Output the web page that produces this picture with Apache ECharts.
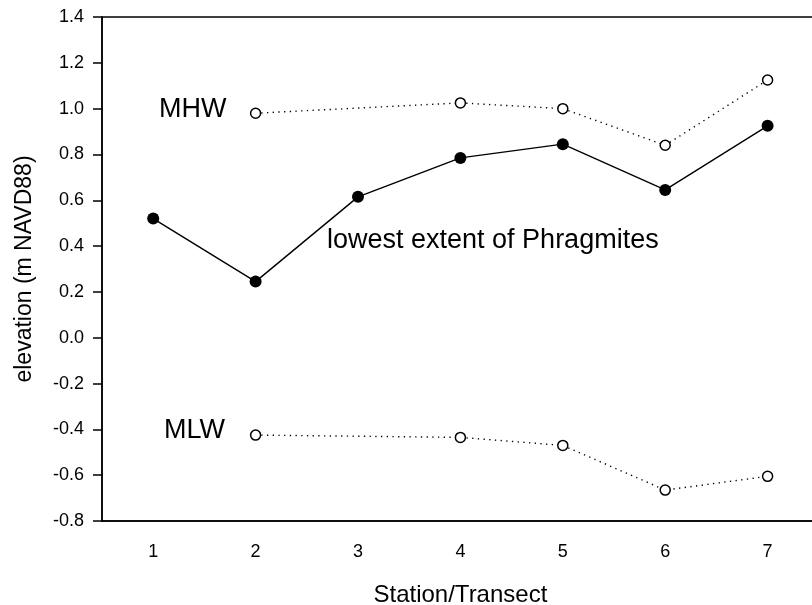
<!DOCTYPE html>
<html>
<head>
<meta charset="utf-8">
<script src="https://cdn.jsdelivr.net/npm/echarts@6/dist/echarts.min.js"></script>
<style>
html,body{margin:0;padding:0;background:#fff;}
#chart{width:812px;height:605px;}
</style>
</head>
<body>
<div id="chart"></div>
<script>
const stations = ['1', '2', '3', '4', '5', '6', '7'];
const phragmitesLowest = [0.52, 0.245, 0.615, 0.785, 0.845, 0.645, 0.925];
const mhw = [null, 0.98, null, 1.025, 1.0, 0.84, 1.125];
const mlw = [null, -0.425, null, -0.435, -0.47, -0.665, -0.605];
const yTicks = { min: -0.8, max: 1.4, step: 0.2 };

const FONT = "'Liberation Sans', Arial, sans-serif";
const chart = echarts.init(document.getElementById('chart'), null, { renderer: 'canvas' });

const option = {
  animation: false,
  backgroundColor: '#fff',
  grid: {
    left: 102, top: 17, width: 716.8, height: 504,
    outerBoundsMode: 'none', containLabel: false,
    show: true, borderColor: '#000', borderWidth: 1.5, backgroundColor: 'transparent'
  },
  xAxis: {
    type: 'category',
    data: stations,
    boundaryGap: true,
    name: 'Station/Transect',
    nameLocation: 'middle',
    nameGap: 62,
    nameTextStyle: { fontFamily: FONT, fontSize: 24, color: '#000' },
    axisLine: { onZero: false, lineStyle: { color: '#000', width: 1.5 } },
    axisTick: { alignWithLabel: true, length: 8, lineStyle: { color: '#000', width: 1.5 } },
    axisLabel: { margin: 22, fontFamily: FONT, fontSize: 18, color: '#000' },
    splitLine: { show: false }
  },
  yAxis: {
    type: 'value',
    min: yTicks.min, max: yTicks.max, interval: yTicks.step,
    name: 'elevation (m NAVD88)',
    nameLocation: 'middle',
    nameGap: 66,
    nameTextStyle: { fontFamily: FONT, fontSize: 23, color: '#000' },
    axisLine: { show: true, onZero: false, lineStyle: { color: '#000', width: 1.5 } },
    axisTick: { show: true, length: 9, lineStyle: { color: '#000', width: 1.5 } },
    axisLabel: { margin: 18, fontFamily: FONT, fontSize: 18, color: '#000',
      formatter: v => (Math.abs(v) < 1e-9 ? 0 : v).toFixed(1) },
    splitLine: { show: false }
  },
  series: [
    {
      name: 'MHW', type: 'line', data: mhw, connectNulls: true,
      symbol: 'circle', symbolSize: 10,
      itemStyle: { color: '#fff', borderColor: '#000', borderWidth: 1.5 },
      lineStyle: { color: '#000', width: 1.4, type: [1.3, 4.4] },
      z: 3
    },
    {
      name: 'lowest extent of Phragmites', type: 'line', data: phragmitesLowest,
      symbol: 'circle', symbolSize: 12,
      itemStyle: { color: '#000', borderColor: '#000', borderWidth: 0 },
      lineStyle: { color: '#000', width: 1.4, type: 'solid' },
      z: 3
    },
    {
      name: 'MLW', type: 'line', data: mlw, connectNulls: true,
      symbol: 'circle', symbolSize: 10,
      itemStyle: { color: '#fff', borderColor: '#000', borderWidth: 1.5 },
      lineStyle: { color: '#000', width: 1.4, type: [1.3, 4.4] },
      z: 3
    }
  ],
  graphic: [
    { type: 'text', x: 159, y: 110, style: { text: 'MHW', fontFamily: FONT, fontSize: 27, fill: '#000', verticalAlign: 'middle' } },
    { type: 'text', x: 164, y: 431, style: { text: 'MLW', fontFamily: FONT, fontSize: 27, fill: '#000', verticalAlign: 'middle' } },
    { type: 'text', x: 327, y: 241, style: { text: 'lowest extent of Phragmites', fontFamily: FONT, fontSize: 27, fill: '#000', verticalAlign: 'middle' } }
  ]
};
chart.setOption(option);
</script>
</body>
</html>
